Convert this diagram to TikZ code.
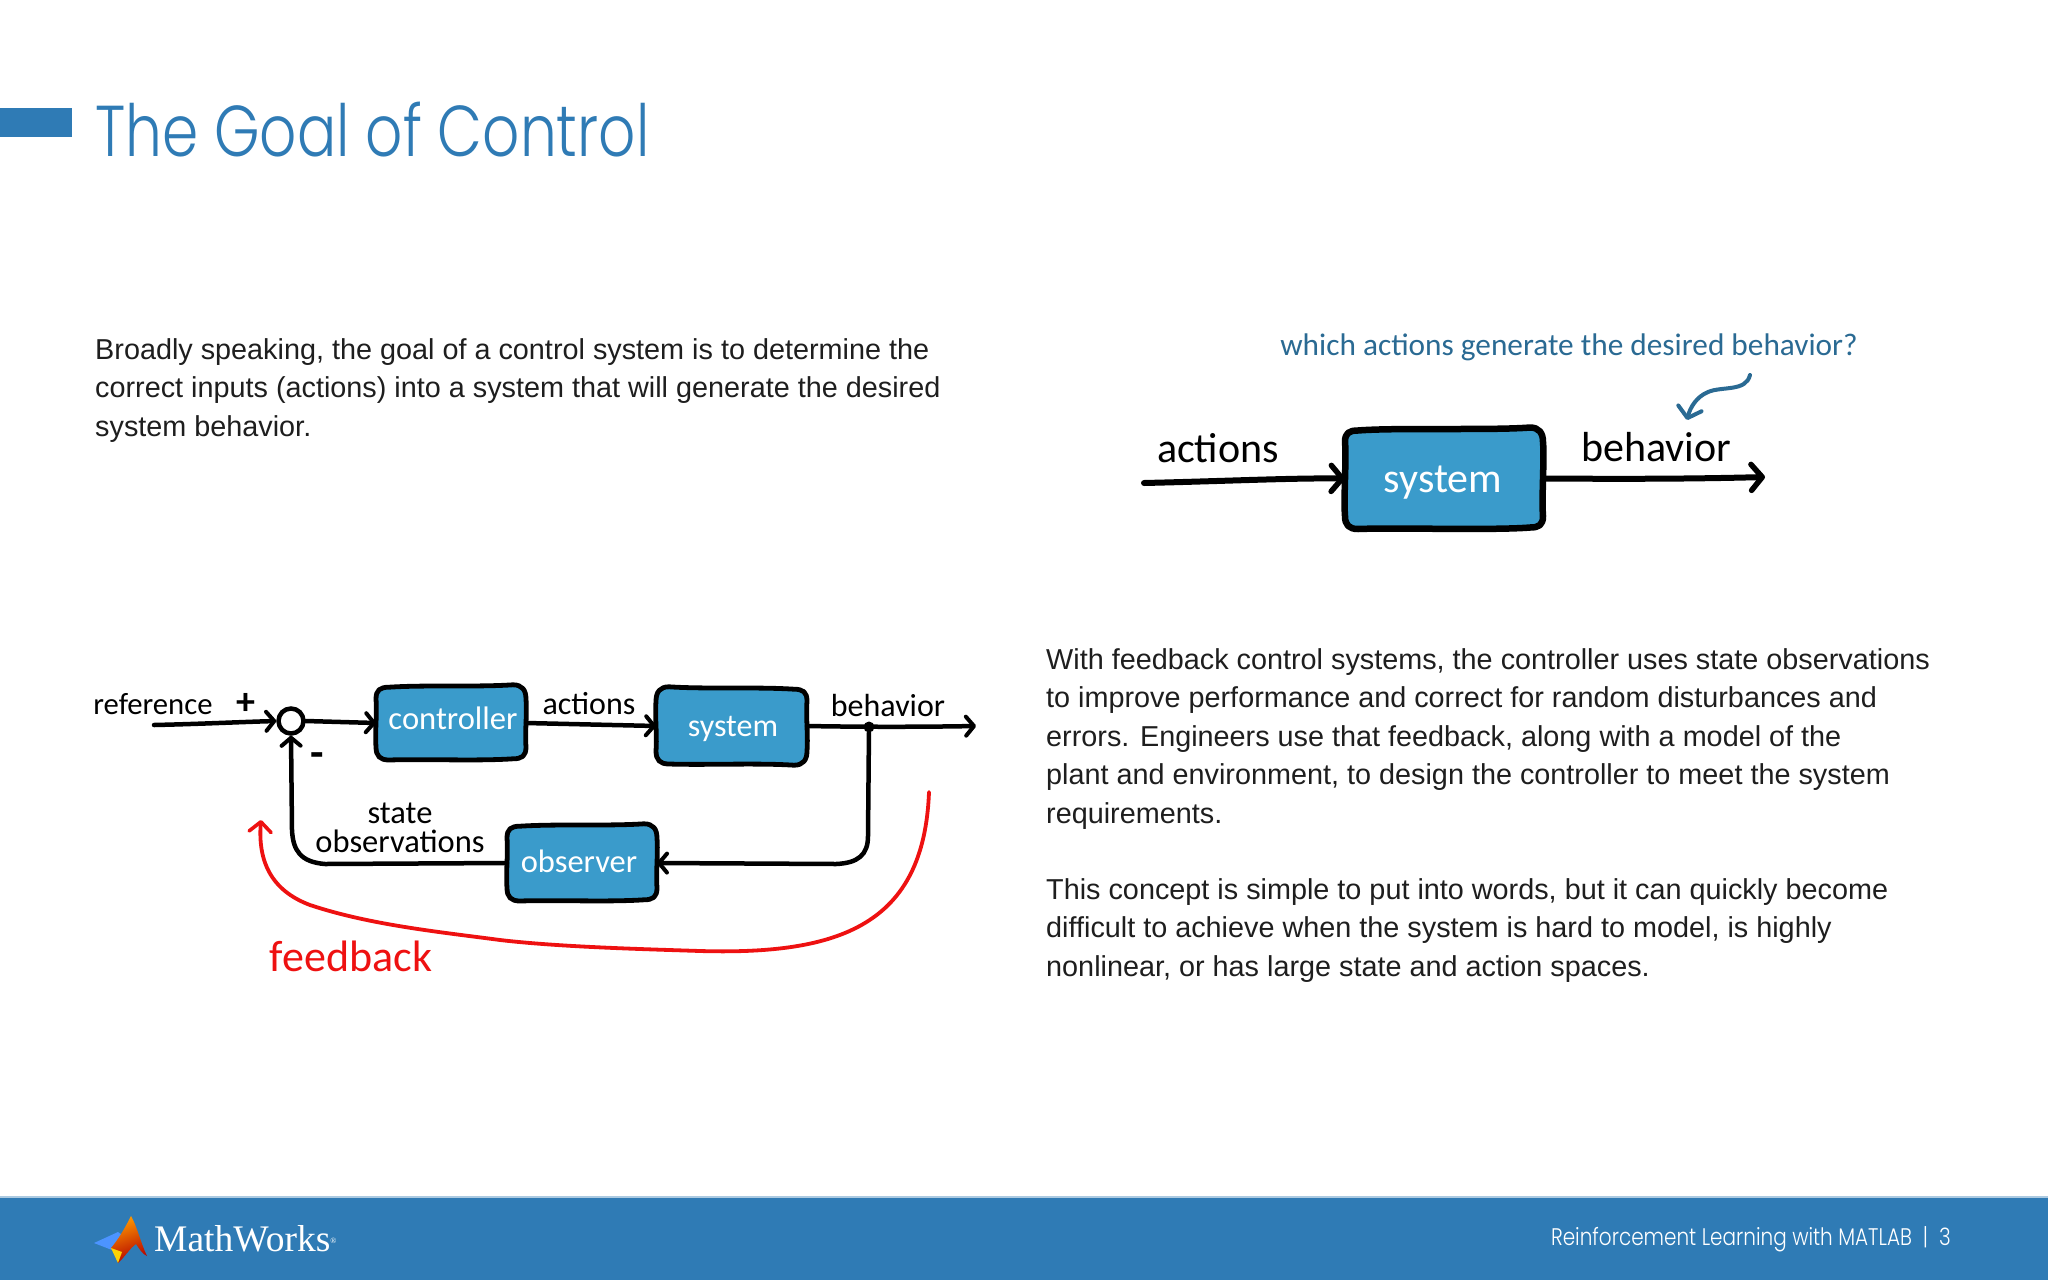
\documentclass[tikz,border=0pt]{standalone}
\usepackage{fontspec}
\usetikzlibrary{arrows.meta,shapes.geometric}
\setmainfont{Liberation Sans}
\newfontfamily\handf{Carlito}
\newfontfamily\titlef{Poppins Light}
\newfontfamily\serf{Liberation Serif}
\definecolor{barblue}{HTML}{2F7BB5}
\definecolor{boxblue}{HTML}{3A9BCB}
\definecolor{notecol}{HTML}{2A6A93}
\definecolor{bodytxt}{HTML}{1E1E1E}
\definecolor{redline}{HTML}{EE1111}
% hand-drawn box outline: x1,y1,x2,y2,line width,wobble
\newcommand{\roughbox}[6]{%
  \draw[draw=black,fill=boxblue,line width=#5,line join=round]
   ({#1+13},{#2+#6}) .. controls ({#1+50},{#2-#6}) and ({#3-50},{#2+#6}) .. ({#3-13},{#2-#6})
   .. controls ({#3-4},{#2-#6}) and ({#3},{#2+4}) .. ({#3},{#2+13})
   .. controls ({#3+#6},{#2+30}) and ({#3-#6},{#4-30}) .. ({#3},{#4-13})
   .. controls ({#3},{#4-4}) and ({#3-4},{#4-#6}) .. ({#3-13},{#4-#6})
   .. controls ({#3-50},{#4+#6}) and ({#1+50},{#4-#6}) .. ({#1+13},{#4})
   .. controls ({#1+4},{#4}) and ({#1},{#4-4}) .. ({#1},{#4-13})
   .. controls ({#1-#6},{#4-30}) and ({#1+#6},{#2+30}) .. ({#1},{#2+13})
   .. controls ({#1},{#2+4}) and ({#1+4},{#2+#6}) .. ({#1+13},{#2+#6}) -- cycle;}
\tikzset{
  x=1pt,y=-1pt,
  para/.style={anchor=north west,inner sep=0pt,align=left,text=bodytxt,font=\fontsize{28.8}{38.5}\selectfont},
  hand/.style={inner sep=0pt,font=\handf\fontsize{#1}{#1}\selectfont},
  boxanchor/.style={inner sep=0pt,outer sep=0pt},
  wire/.style={draw=black,line width=4.5pt,line cap=round,line join=round},
  bigwire/.style={draw=black,line width=6pt,line cap=round,line join=round},
  tipS/.style={-{Straight Barb[length=8pt,width=19pt,line width=4pt,round]}},
  tipB/.style={-{Straight Barb[length=11pt,width=26pt,line width=5.5pt,round]}},
}
\begin{document}
\begin{tikzpicture}
\useasboundingbox (0,0) rectangle (2048,1280);
\fill[white] (0,0) rectangle (2048,1280);
% header
\fill[barblue] (0,108) rectangle (72,137);
\node[anchor=base west,inner sep=0pt,text=barblue,xscale=0.808,font=\titlef\fontsize{72}{72}\selectfont] (title) at (95,156) {The Goal of Control};
% paragraphs
\node[para] (p1) at (95,338) {Broadly speaking, the goal of a control system is to determine the\\correct inputs (actions) into a system that will generate the desired\\system behavior.};
\node[para] (p2) at (1046,648) {With feedback control systems, the controller uses state observations\\to improve performance and correct for random disturbances and\\errors. Engineers use that feedback, along with a model of the\\plant and environment, to design the controller to meet the system\\requirements.};
\node[para] (p3) at (1046,878) {This concept is simple to put into words, but it can quickly become\\difficult to achieve when the system is hard to model, is highly\\nonlinear, or has large state and action spaces.};
% top diagram
\node[hand=31.3,text=notecol] (q) at (1569,347) {which actions generate the desired behavior?};
\roughbox{1345}{429}{1543}{529}{6.5pt}{1.5}
\node[boxanchor,minimum width=198pt,minimum height=101pt] (sysA) at (1444,478.5) {};
\node[hand=42,text=white] (sysAt) at (1443,483) {system};
\node[hand=42] (actA) at (1218,448) {actions};
\node[hand=42] (behA) at (1656,447) {behavior};
\coordinate (inA) at (1144,483);
\coordinate (outA) at (1765,477);
\coordinate (noteS) at (1750,375);
\coordinate (noteE) at (1687,420);
\draw[bigwire,tipB] (inA) .. controls (1230,481) and (1290,478) .. (sysA.west);
\draw[bigwire,tipB] (sysA.east) .. controls (1620,479) and (1690,479) .. (outA);
\draw[notecol,line width=4pt,line cap=round,-{Straight Barb[length=10pt,width=24pt,line width=4pt,round]}] (noteS) .. controls (1746,392) and (1722,386) .. (1708,392) .. controls (1696,397) and (1690,408) .. (noteE);
% bottom diagram
\roughbox{376}{686}{526}{760}{4.8pt}{1.2}
\roughbox{656}{688}{807}{764}{4.8pt}{-1.2}
\roughbox{507}{825}{657}{901}{4.8pt}{1.2}
\node[boxanchor,minimum width=150pt,minimum height=74pt] (ctrl) at (451,723) {};
\node[boxanchor,minimum width=151pt,minimum height=76pt] (sysB) at (731.5,726) {};
\node[boxanchor,minimum width=150pt,minimum height=76pt] (obs) at (582,863) {};
\node[hand=32.6,text=white] (ctrlt) at (453,718) {controller};
\node[hand=32,text=white] (sysBt) at (733,729) {system};
\node[hand=32.5,text=white] (obst) at (579,861) {observer};
\node[circle,draw=black,line width=4.5pt,fill=white,minimum size=25pt,inner sep=0pt] (sum) at (291,721) {};
\node[hand=30.7] (ref) at (153,704) {reference};
\node[inner sep=0pt,font=\handf\bfseries\fontsize{38}{38}\selectfont] (plus) at (246,704) {+};
\node[inner sep=0pt,font=\handf\bfseries\fontsize{44}{44}\selectfont] (minus) at (317,760) {-};
\node[hand=32] (actB) at (589,704) {actions};
\node[hand=32] (behB) at (888,705) {behavior};
\node[inner sep=0pt,align=center,font=\handf\fontsize{32.5}{29}\selectfont] (stobs) at (400,828) {state\\observations};
\node[hand=44,text=redline] (fb) at (351,956) {feedback};
\coordinate (inB) at (154,725);
\coordinate (outB) at (976,726);
\node[circle,fill=black,minimum size=11pt,inner sep=0pt] (jun) at (869,727) {};
\draw[wire,tipS] (inB) .. controls (200,724) and (240,722) .. (sum.west);
\draw[wire,tipS] (sum.east) -- (ctrl.west);
\draw[wire,tipS] (ctrl.east) -- (sysB.west);
\draw[wire,tipS] (sysB.east) .. controls (860,727) and (920,727) .. (outB);
\draw[wire,tipS] (jun) -- (868,836) .. controls (868,855) and (858,863) .. (836,864) -- (obs.east);
\draw[wire,tipS] (obs.west) -- (325,864) .. controls (300,862) and (293,850) .. (292,830) -- (sum.south);
\coordinate (redS) at (929,792);
\coordinate (redE) at (261,820);
\draw[redline,line width=3.8pt,line cap=round,line join=round,-{Straight Barb[length=10pt,width=22pt,line width=3.6pt,round]}] (redS) .. controls (924,925) and (840,955) .. (700,951) .. controls (640,949) and (560,947) .. (500,940) .. controls (440,932) and (370,925) .. (310,905) .. controls (270,890) and (258,860) .. (redE);
% footer
\fill[barblue] (0,1196) rectangle (2048,1280);
\fill[white!60!barblue] (0,1196) rectangle (2048,1198);
\fill[blue!60!cyan!70!white] (94,1243) -- (118,1232) -- (125,1237) -- (112,1250) -- cycle;
\shade[top color=orange!80!yellow,bottom color=red!70!black,shading angle=20] (131,1216) .. controls (137,1226) and (141,1244) .. (147,1256) .. controls (142,1254) and (139,1248) .. (136,1244) .. controls (130,1248) and (124,1258) .. (118,1263) .. controls (116,1257) and (114,1252) .. (111,1248) .. controls (118,1240) and (125,1228) .. (131,1216) -- cycle;
\fill[yellow!70!orange] (111,1248) -- (122,1252) -- (118,1263) -- cycle;
\node[anchor=base west,inner sep=0pt,text=white,font=\serf\fontsize{37.5}{37.5}\selectfont] (mw) at (154,1251) {MathWorks\raisebox{0.2em}{\fontsize{8}{8}\selectfont®}};
\node[anchor=base east,inner sep=0pt,text=white,xscale=0.833,font=\titlef\fontsize{24}{24}\selectfont] (foot) at (1951,1245) {Reinforcement Learning with MATLAB \ | \ 3};
\end{tikzpicture}
\end{document}
